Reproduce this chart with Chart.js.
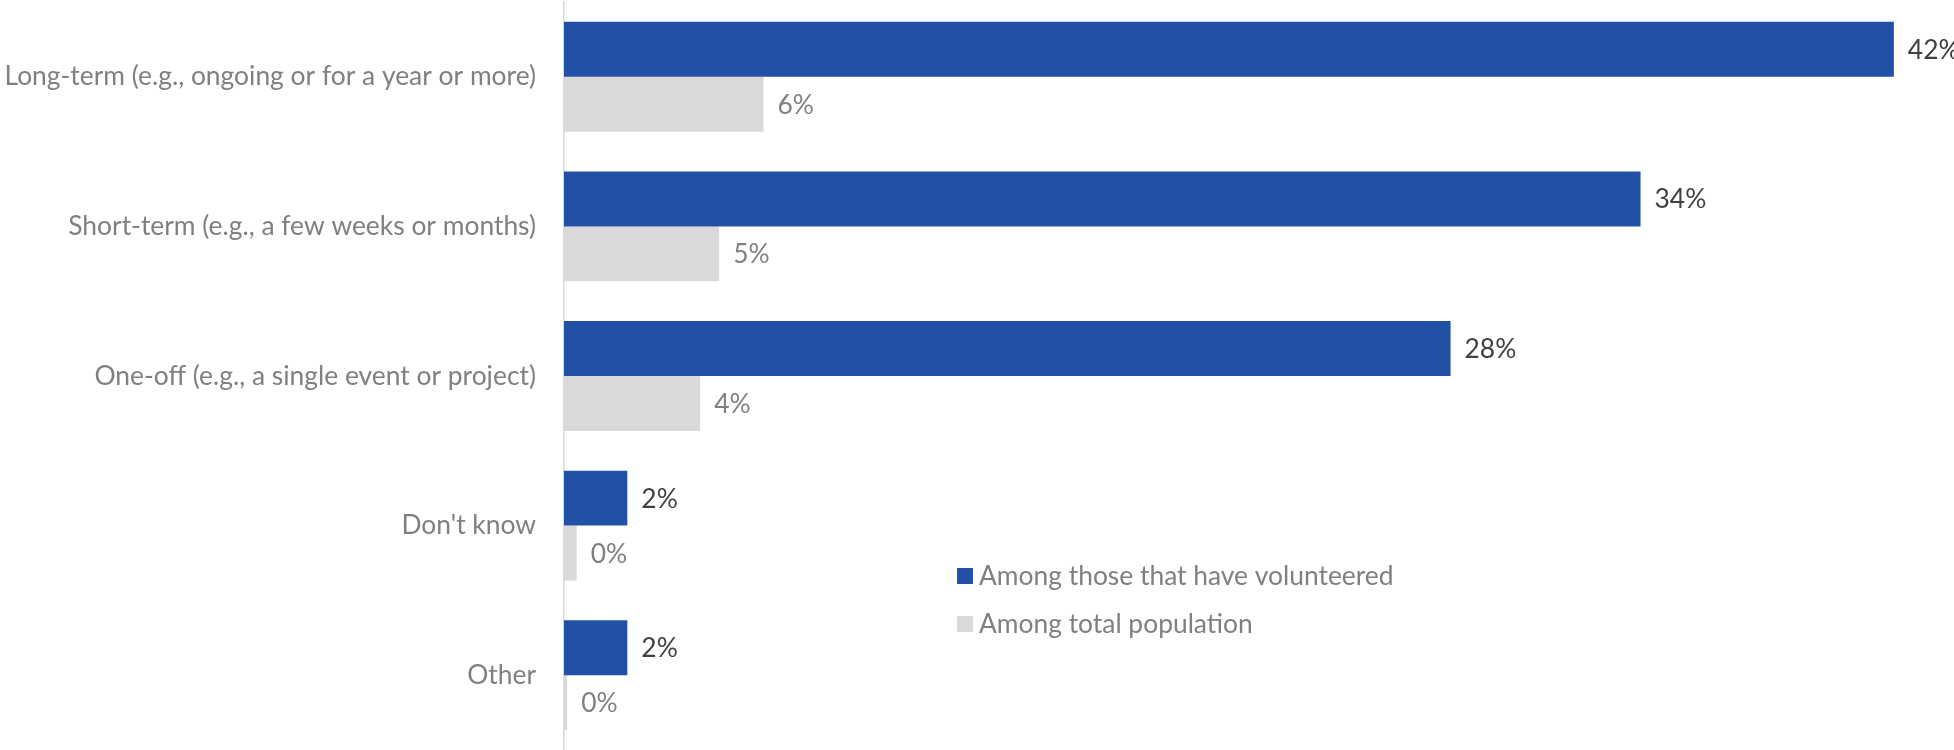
<!DOCTYPE html>
<html>
<head>
<meta charset="utf-8">
<title>Type of volunteering</title>
<script src="https://cdn.jsdelivr.net/npm/chart.js@4.4.1/dist/chart.umd.min.js"></script>
<style>
  html, body { margin: 0; padding: 0; background: #ffffff; }
  #wrap { position: relative; width: 1954px; height: 750px; }
</style>
</head>
<body>
<div id="wrap"><canvas id="chart" width="1954" height="750"></canvas></div>
<script>
// Categories (top to bottom) and the two survey series, in percent
const categories = [
  'Long-term (e.g., ongoing or for a year or more)',
  'Short-term (e.g., a few weeks or months)',
  'One-off (e.g., a single event or project)',
  "Don't know",
  'Other'
];
const seriesNames = ['Among those that have volunteered', 'Among total population'];
const volunteered = [42, 34, 28, 2, 2];
const totalPopulation = [6.3, 4.9, 4.3, 0.4, 0.1];

const BLUE = '#2150A4';
const GREY = '#D9D9D9';
const TEXT_GREY = '#808080';
const FONT = 'Lato, "Open Sans", sans-serif';
const FONT_SIZE = 26.4;

// Percentage labels (rounded to whole percent) just past the end of each bar
const barValueLabels = {
  id: 'barValueLabels',
  afterDatasetsDraw(chart) {
    const ctx = chart.ctx;
    ctx.save();
    ctx.font = FONT_SIZE + 'px ' + FONT;
    ctx.textAlign = 'left';
    ctx.textBaseline = 'middle';
    chart.data.datasets.forEach((ds, di) => {
      const meta = chart.getDatasetMeta(di);
      ctx.fillStyle = ds.valueLabelColor;
      meta.data.forEach((bar, i) => {
        const txt = Math.round(ds.data[i]) + '%';
        ctx.fillText(txt, bar.x + 14, bar.y + 1);
      });
    });
    ctx.restore();
  }
};

// Legend block sitting inside the plot, lower middle
const insetLegend = {
  id: 'insetLegend',
  afterDraw(chart) {
    const ctx = chart.ctx;
    const x0 = 957, y0 = 576, rowGap = 48, box = 16;
    ctx.save();
    ctx.font = FONT_SIZE + 'px ' + FONT;
    ctx.textAlign = 'left';
    ctx.textBaseline = 'middle';
    chart.data.datasets.forEach((ds, i) => {
      const cy = y0 + i * rowGap;
      ctx.fillStyle = ds.backgroundColor;
      ctx.fillRect(x0, cy - box / 2, box, box);
      ctx.fillStyle = TEXT_GREY;
      ctx.fillText(ds.label, x0 + box + 6, cy);
    });
    ctx.restore();
  }
};

new Chart(document.getElementById('chart'), {
  type: 'bar',
  data: {
    labels: categories,
    datasets: [
      {
        label: seriesNames[0],
        data: volunteered,
        backgroundColor: BLUE,
        valueLabelColor: '#404040',
        categoryPercentage: 0.7345,
        barPercentage: 1.0
      },
      {
        label: seriesNames[1],
        data: totalPopulation,
        backgroundColor: GREY,
        valueLabelColor: TEXT_GREY,
        categoryPercentage: 0.7345,
        barPercentage: 1.0
      }
    ]
  },
  options: {
    indexAxis: 'y',
    responsive: false,
    animation: false,
    layout: { padding: { top: 2, right: 0, bottom: 0, left: 0 } },
    plugins: {
      legend: { display: false },
      tooltip: { enabled: false }
    },
    scales: {
      x: {
        display: false,
        min: 0,
        max: 43.9
      },
      y: {
        grid: { display: false, drawTicks: false },
        border: { display: true, color: GREY, width: 1.5 },
        ticks: {
          color: TEXT_GREY,
          padding: 28,
          font: { family: FONT, size: FONT_SIZE }
        },
        afterFit(scale) {
          // fixed label column; no extra space above/below the category band
          scale.width = 564;
          scale.paddingTop = 0;
          scale.paddingBottom = 0;
        }
      }
    }
  },
  plugins: [barValueLabels, insetLegend]
});
</script>
</body>
</html>
